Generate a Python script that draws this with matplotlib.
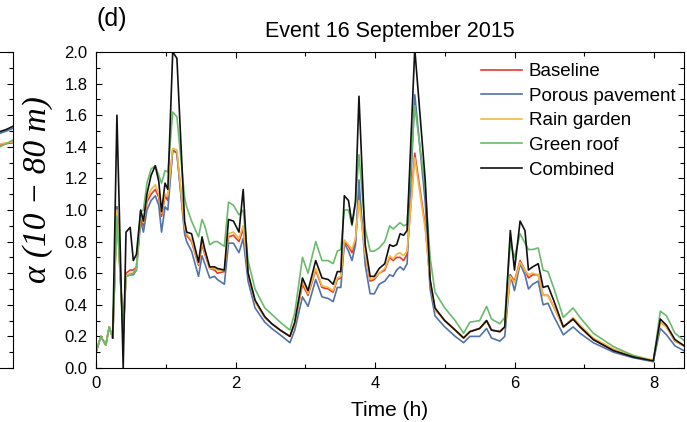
import numpy as np
import matplotlib
matplotlib.use("Agg")
import matplotlib.pyplot as plt
from matplotlib.ticker import MultipleLocator

plt.rcParams["font.family"] = ["Liberation Sans", "DejaVu Sans"]

# time (h) of the read-off points, event 16 September 2015
time_h = [0.00, 0.07, 0.14, 0.19, 0.24, 0.30, 0.39, 0.43, 0.49, 0.535,
          0.58, 0.64, 0.68, 0.73, 0.79, 0.85, 0.90, 0.94, 0.99, 1.03,
          1.10, 1.16, 1.27, 1.30, 1.37, 1.47, 1.52, 1.56, 1.63, 1.70,
          1.74, 1.84, 1.90, 1.97, 2.05, 2.11, 2.18, 2.28, 2.42, 2.52,
          2.64, 2.78, 2.85, 2.96, 3.04, 3.15, 3.24, 3.33, 3.40, 3.46,
          3.51, 3.56, 3.62, 3.67, 3.72, 3.77, 3.86, 3.93, 3.99, 4.06,
          4.14, 4.21, 4.26, 4.31, 4.36, 4.41, 4.46, 4.57, 4.72, 4.79,
          4.86, 5.00, 5.15, 5.27, 5.36, 5.50, 5.60, 5.67, 5.79, 5.86,
          5.94, 6.00, 6.08, 6.15, 6.20, 6.26, 6.34, 6.41, 6.48, 6.56,
          6.70, 6.84, 6.94, 7.13, 7.42, 7.70, 7.99, 8.09, 8.18, 8.30,
          8.47]

baseline = [0.10, 0.20, 0.145, 0.26, 0.19, 1.02, 0.22, 0.60, 0.62, 0.62,
            0.64, 0.95, 0.90, 1.05, 1.10, 1.13, 1.08, 0.96, 1.09, 1.06,
            1.38, 1.36, 0.88, 0.84, 0.80, 0.65, 0.78, 0.72, 0.63, 0.62,
            0.60, 0.61, 0.83, 0.84, 0.80, 0.88, 0.60, 0.42, 0.32, 0.28,
            0.24, 0.20, 0.28, 0.53, 0.46, 0.62, 0.51, 0.50, 0.48, 0.56,
            0.57, 0.80, 0.77, 0.73, 0.80, 1.10, 0.72, 0.55, 0.56, 0.60,
            0.62, 0.70, 0.68, 0.70, 0.70, 0.68, 0.72, 1.36, 0.90, 0.55,
            0.37, 0.30, 0.24, 0.19, 0.23, 0.25, 0.30, 0.24, 0.23, 0.26,
            0.59, 0.55, 0.68, 0.62, 0.57, 0.59, 0.59, 0.46, 0.46, 0.39,
            0.26, 0.31, 0.26, 0.18, 0.11, 0.075, 0.045, 0.29, 0.26, 0.17,
            0.13]

porous = [0.10, 0.20, 0.145, 0.26, 0.19, 1.02, 0.22, 0.58, 0.59, 0.59,
          0.62, 0.93, 0.86, 1.00, 1.06, 1.09, 1.03, 0.86, 1.02, 1.00,
          1.38, 1.36, 0.85, 0.80, 0.74, 0.58, 0.71, 0.66, 0.57, 0.58,
          0.56, 0.53, 0.79, 0.79, 0.73, 0.82, 0.55, 0.38, 0.29, 0.25,
          0.21, 0.16, 0.24, 0.45, 0.39, 0.56, 0.45, 0.44, 0.42, 0.51,
          0.51, 0.79, 0.74, 0.68, 0.78, 1.19, 0.65, 0.47, 0.47, 0.53,
          0.55, 0.59, 0.58, 0.62, 0.64, 0.62, 0.66, 1.73, 1.05, 0.50,
          0.33, 0.26, 0.20, 0.16, 0.20, 0.20, 0.25, 0.19, 0.17, 0.20,
          0.59, 0.49, 0.66, 0.59, 0.50, 0.53, 0.55, 0.40, 0.41, 0.33,
          0.21, 0.26, 0.22, 0.16, 0.10, 0.065, 0.04, 0.25, 0.21, 0.14,
          0.10]

rain_garden = [0.10, 0.20, 0.145, 0.26, 0.19, 1.00, 0.20, 0.58, 0.60, 0.60,
               0.63, 0.97, 0.92, 1.07, 1.13, 1.16, 1.10, 0.98, 1.10, 1.09,
               1.39, 1.38, 0.89, 0.85, 0.81, 0.66, 0.80, 0.73, 0.63, 0.63,
               0.62, 0.62, 0.85, 0.86, 0.82, 0.90, 0.60, 0.42, 0.32, 0.28,
               0.24, 0.20, 0.28, 0.55, 0.47, 0.63, 0.52, 0.51, 0.49, 0.57,
               0.58, 0.81, 0.78, 0.75, 0.82, 1.06, 0.72, 0.56, 0.57, 0.60,
               0.63, 0.71, 0.69, 0.72, 0.73, 0.71, 0.74, 1.33, 0.88, 0.55,
               0.37, 0.30, 0.24, 0.19, 0.23, 0.25, 0.30, 0.24, 0.23, 0.26,
               0.58, 0.54, 0.67, 0.62, 0.59, 0.60, 0.59, 0.46, 0.46, 0.39,
               0.26, 0.32, 0.27, 0.19, 0.12, 0.08, 0.05, 0.29, 0.26, 0.17,
               0.13]

green_roof = [0.10, 0.20, 0.145, 0.26, 0.19, 0.96, 0.25, 0.58, 0.59, 0.60,
              0.64, 0.99, 1.00, 1.17, 1.26, 1.28, 1.22, 1.17, 1.25, 1.24,
              1.62, 1.59, 1.08, 1.02, 0.93, 0.83, 0.94, 0.90, 0.78, 0.80,
              0.80, 0.77, 1.05, 1.03, 0.97, 1.00, 0.68, 0.50, 0.38, 0.34,
              0.29, 0.24, 0.35, 0.70, 0.60, 0.80, 0.68, 0.68, 0.66, 0.74,
              0.75, 1.00, 1.00, 0.90, 1.05, 1.35, 0.88, 0.74, 0.74, 0.76,
              0.80, 0.90, 0.88, 0.90, 0.92, 0.90, 0.91, 1.66, 1.14, 0.70,
              0.48, 0.38, 0.30, 0.22, 0.29, 0.30, 0.39, 0.31, 0.28, 0.32,
              0.79, 0.70, 0.85, 0.79, 0.75, 0.75, 0.76, 0.62, 0.61, 0.51,
              0.32, 0.38, 0.32, 0.22, 0.135, 0.08, 0.04, 0.36, 0.33, 0.22,
              0.16]

combined = [np.nan, np.nan, np.nan, np.nan, 0.19, 1.60, 0.00, 0.86, 0.89, 0.68,
            0.72, 1.00, 0.93, 1.10, 1.22, 1.28, 1.18, 0.99, 1.17, 1.13,
            2.00, 1.96, 0.93, 0.86, 0.85, 0.67, 0.83, 0.75, 0.64, 0.64,
            0.63, 0.62, 0.94, 0.93, 0.86, 1.13, 0.60, 0.43, 0.325, 0.28,
            0.24, 0.20, 0.29, 0.57, 0.49, 0.68, 0.57, 0.56, 0.53, 0.61,
            0.61, 1.09, 1.06, 0.91, 1.05, 1.72, 0.78, 0.58, 0.58, 0.63,
            0.66, 0.78, 0.77, 0.78, 0.85, 0.84, 0.87, 2.02, 1.19, 0.56,
            0.38, 0.30, 0.24, 0.19, 0.23, 0.25, 0.30, 0.24, 0.23, 0.26,
            0.87, 0.62, 0.93, 0.87, 0.62, 0.64, 0.66, 0.51, 0.52, 0.43,
            0.26, 0.31, 0.26, 0.18, 0.11, 0.07, 0.045, 0.31, 0.27, 0.18,
            0.13]

# right edge of the neighbouring panel (c), cropped in the figure
c_x = [0.94, 0.97, 1.00]
c_baseline = [1.41, 1.42, 1.426]
c_porous = [1.485, 1.50, 1.517]
c_rain = [1.418, 1.425, 1.432]
c_green = [1.40, 1.42, 1.443]
c_combined = [1.496, 1.51, 1.53]

labels = ["Baseline", "Porous pavement", "Rain garden", "Green roof", "Combined"]
colors = ["#e8392e", "#5272a8", "#f5b843", "#6abb6c", "#111111"]

fig = plt.figure(figsize=(6.87, 4.22), dpi=100)
W, H = 687, 422
left, right, top, bottom = 96, 684, 52, 368
ax = fig.add_axes([left / W, 1 - bottom / H, (right - left) / W, (bottom - top) / H])
ax_c = fig.add_axes([-0.3, 1 - bottom / H, 0.3 + 13 / W, (bottom - top) / H])

for ys, lab, col in zip([baseline, porous, rain_garden, green_roof, combined], labels, colors):
    ax.plot(time_h, ys, color=col, lw=1.2, label=lab)

for ys, col in zip([c_baseline, c_porous, c_rain, c_green, c_combined], colors):
    ax_c.plot(c_x, ys, color=col, lw=1.2)

ax.set_xlim(0, 8.43)
ax.set_ylim(0, 2.0)
ax.xaxis.set_major_locator(MultipleLocator(2))
ax.xaxis.set_minor_locator(MultipleLocator(1))
ax.yaxis.set_major_locator(MultipleLocator(0.2))
ax.yaxis.set_minor_locator(MultipleLocator(0.1))
ax.tick_params(which="both", direction="in", top=True, right=True, labelsize=12, pad=6)
ax.tick_params(which="major", length=4.5, width=0.8)
ax.tick_params(which="minor", length=3, width=0.8)

ax.set_xlabel("Time (h)", fontsize=15, labelpad=7)
ax.set_title("Event 16 September 2015", fontsize=15.5, pad=11)
ax.set_ylabel("α (10 − 80 m)", fontsize=24, fontstyle="italic",
              family=["Liberation Serif", "DejaVu Serif"])
ax.yaxis.set_label_coords(-0.073, 0.565)
fig.text(97 / W, 1 - 19 / H, "(d)", fontsize=18, ha="left", va="center")

ax.legend(loc="upper left", bbox_to_anchor=(0.655, 0.965), frameon=False,
          fontsize=13.5, handlelength=2.2, handletextpad=0.35, labelspacing=0.40,
          borderpad=0, borderaxespad=0)

ax_c.set_xlim(0, 1)
ax_c.set_ylim(0, 2.0)
ax_c.set_xticks([])
ax_c.yaxis.set_major_locator(MultipleLocator(0.2))
ax_c.yaxis.set_minor_locator(MultipleLocator(0.1))
ax_c.tick_params(which="both", direction="in", left=False, right=True, labelleft=False)
ax_c.tick_params(which="major", length=4, width=0.8)
ax_c.tick_params(which="minor", length=3, width=0.8)

fig.savefig("out.png", dpi=100)
